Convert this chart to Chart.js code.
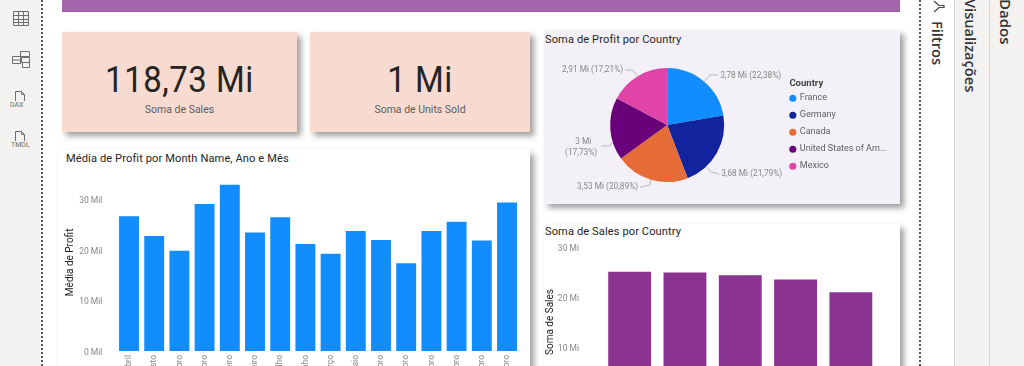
<!DOCTYPE html>
<html lang="pt">
<head>
<meta charset="utf-8">
<title>Power BI report</title>
<script src="https://cdn.jsdelivr.net/npm/chart.js@4/dist/chart.umd.min.js"></script>
<style>
    html, body { margin: 0; padding: 0; }
    body { position: relative; width: 1024px; height: 366px; overflow: hidden; background: #fff; font-family: Roboto, sans-serif; }
    .box { position: absolute; }
    .card { position: absolute; box-shadow: 4px 4px 6px rgba(0, 0, 0, .38); }
    .kpi { background: #f7dad0; text-align: center; color: #252423; }
    .kpi .value { position: absolute; left: 0; right: 0; top: 26px; font-size: 37px; line-height: 44px; letter-spacing: .6px; transform: scaleX(.89); }
    .kpi .name { position: absolute; left: 0; right: 0; top: 71px; font-size: 10.5px; line-height: 14px; color: #605e5c; }
    .title { position: absolute; font-size: 11.1px; line-height: 14px; color: #252423; letter-spacing: .1px; white-space: nowrap; }
    .side { position: absolute; writing-mode: vertical-rl; font-family: "Open Sans", sans-serif; font-size: 14px; line-height: 16px; color: #333; white-space: nowrap; }
    canvas { position: absolute; display: block; }
    svg { position: absolute; fill: none; stroke: #6f6e6c; stroke-width: 1; }
    svg text { fill: #6f6e6c; stroke: none; font: 7px Roboto, sans-serif; }
</style>
</head>
<body>
    <!-- left rail -->
    <div class="box" style="left:0;top:0;width:41px;height:366px;background:#f3f2f1"></div>
    <div class="box" style="left:41px;top:0;height:366px;border-left:2px dotted #555"></div>
    <svg style="left:12px;top:9px" width="18" height="18" viewBox="0 0 18 18"><path d="M1.5 2.5h15v14h-15zM1.5 6.5h15M1.5 10.5h15M1.5 13.5h15M6.5 2.5v14M11.5 2.5v14"/></svg>
    <svg style="left:11px;top:49px" width="20" height="20" viewBox="0 0 20 20"><path d="M9.5 2.5h9v5h-9zM1.5 7.5h8v7h-8zM10.5 8.5h8v5h-8zM11.5 13.5h7v5h-7zM1.5 11h8"/></svg>
    <svg style="left:10px;top:90px" width="20" height="20" viewBox="0 0 20 20"><path d="M5.5 11V1.5h6l3 3V11M11.5 1.5v3h3"/><text x="0" y="17">DAX</text></svg>
    <svg style="left:10px;top:130px" width="22" height="20" viewBox="0 0 22 20"><path d="M5.5 11V1.5h6l3 3V11M11.5 1.5v3h3"/><text x="1" y="17">TMDL</text></svg>

    <!-- right panes -->
    <div class="box" style="left:919px;top:0;height:366px;border-left:2px dotted #555"></div>
    <div class="box" style="left:954px;top:0;width:35px;height:366px;background:#f3f2f1;border-left:1px solid #d8d6d4;box-sizing:border-box"></div>
    <div class="box" style="left:989px;top:0;width:35px;height:366px;background:#f3f2f1;border-left:1px solid #d8d6d4;box-sizing:border-box"></div>
    <svg style="left:933px;top:0" width="14" height="14" viewBox="0 0 14 14"><path d="M1 1l5 4.5h5v2H6L1 12" stroke="#444" stroke-width="1.2"/></svg>
    <div class="side" style="left:930px;top:21px;font-weight:600;font-size:14.6px">Filtros</div>
    <div class="side" style="left:963px;top:-1px;font-weight:600;font-size:14.6px">Visualizações</div>
    <div class="side" style="left:998px;top:-1px;font-weight:600;font-size:15px">Dados</div>

    <!-- report header band -->
    <div class="box" style="left:62px;top:0;width:838px;height:12px;background:#a566ad;border-bottom:1px solid #9a55a3;box-sizing:border-box"></div>

    <div class="card kpi" style="left:62px;top:32px;width:235px;height:100px">
        <div class="value">118,73 Mi</div>
        <div class="name">Soma de Sales</div>
    </div>
    <div class="card kpi" style="left:310px;top:32px;width:220px;height:100px">
        <div class="value">1 Mi</div>
        <div class="name">Soma de Units Sold</div>
    </div>

    <div class="card" style="left:58px;top:150px;width:472px;height:240px;background:#fff"></div>
    <div class="title" style="left:66px;top:152px">Média de Profit por Month Name, Ano e Mês</div>
    <canvas id="profitByMonth" width="480" height="260" style="left:50px;top:170px"></canvas>

    <div class="card" style="left:544px;top:30px;width:356px;height:174px;background:#f4f0f7"></div>
    <div class="title" style="left:545px;top:33px">Soma de Profit por Country</div>
    <canvas id="profitByCountry" width="356" height="174" style="left:544px;top:30px"></canvas>

    <div class="card" style="left:544px;top:224px;width:356px;height:180px;background:#fff"></div>
    <div class="title" style="left:545px;top:225px">Soma de Sales por Country</div>
    <canvas id="salesByCountry" width="356" height="210" style="left:544px;top:235px"></canvas>

<script>
    // Values
    const months = ['abril', 'agosto', 'dezembro', 'dezembro', 'fevereiro', 'janeiro', 'julho', 'junho',
        'março', 'maio', 'novembro', 'novembro', 'outubro', 'outubro', 'setembro', 'setembro'];
    const avgProfit = [26600, 22700, 19800, 29000, 32800, 23400, 26400, 21100,
        19200, 23700, 21900, 17300, 23700, 25500, 21800, 29300];
    const profitTicks = [0, 10000, 20000, 30000];

    const countries = ['France', 'Germany', 'Canada', 'United States of America', 'Mexico'];
    const profitMi = [3.78, 3.68, 3.53, 3, 2.91];
    const profitShare = [22.38, 21.79, 20.89, 17.73, 17.21];
    const countryColors = ['#118dff', '#12239e', '#e66c37', '#6b007b', '#e044a7'];

    const salesCountries = ['United States of America', 'Canada', 'France', 'Germany', 'Mexico'];
    const salesMi = [25.03, 24.89, 24.35, 23.51, 20.95];
    const salesTicks = [0, 10, 20, 30];

    const LABEL_FONT = 'Roboto, sans-serif';
    const GREY = '#8a8886';

    Chart.defaults.font.family = LABEL_FONT;
    Chart.defaults.animation = false;
    Chart.defaults.responsive = false;

    function miText(v) {
        return String(v).replace('.', ',') + ' Mi';
    }

    function barOptions(axisTitle, tickCb, yMax, yTicks, yWidth, xHeight, tickPad, titlePad, padding) {
        return {
            layout: { padding },
            plugins: { legend: { display: false }, tooltip: { enabled: false } },
            scales: {
                x: {
                    grid: { display: false, drawTicks: false },
                    border: { display: false },
                    afterFit: scale => { scale.height = xHeight; },
                    ticks: { autoSkip: false, minRotation: 90, maxRotation: 90, padding: 4, color: GREY, font: { size: 8.5 } }
                },
                y: {
                    min: 0,
                    max: yMax,
                    grid: { display: false, drawTicks: false },
                    border: { display: false },
                    afterBuildTicks: scale => {
                        scale.ticks = yTicks.map(value => ({ value }));
                    },
                    afterFit: scale => {
                        // fixed plot box, no room reserved for half a tick label
                        scale.width = yWidth;
                        scale.paddingTop = 0;
                        scale.paddingBottom = 0;
                    },
                    title: { display: true, text: axisTitle, color: '#252423', font: { size: 10 }, padding: titlePad },
                    ticks: { autoSkip: false, labelOffset: 2, padding: tickPad, color: GREY, font: { size: 8.5 }, callback: tickCb }
                }
            }
        };
    }

    new Chart(document.getElementById('profitByMonth'), {
        type: 'bar',
        data: {
            labels: months,
            datasets: [{ data: avgProfit, backgroundColor: '#118dff', categoryPercentage: 1, barPercentage: 0.79 }]
        },
        options: barOptions('Média de Profit', v => (v / 1000) + ' Mil', 35000, profitTicks, 66.4, 79, 14, { top: 14, bottom: 0 },
            { top: 3.7, right: 10.4 })
    });

    new Chart(document.getElementById('salesByCountry'), {
        type: 'bar',
        data: {
            labels: salesCountries,
            datasets: [{ data: salesMi, backgroundColor: '#8a3391', categoryPercentage: 1, barPercentage: 0.775 }]
        },
        options: barOptions('Soma de Sales', v => v + ' Mi', 30, salesTicks, 58, 48, 23, { top: 0, bottom: 0 },
            { top: 12, right: 21.5 })
    });

    // Where each data label sits relative to the pie centre, as Power BI placed them
    const pieLabelPlacement = [
        { shift: 0, elbow: [43, -50], end: [51, -50], text: [53, -49], align: 'left' },
        { shift: 17, elbow: [44, 47], end: [52, 49], text: [54, 49], align: 'left' },
        { shift: 0, elbow: [-17, 60], end: [-27, 62], text: [-29, 62], align: 'right' },
        { shift: -13, elbow: [-57, 21], end: [-66, 21], text: [-86, 17], align: 'center' },
        { shift: 0, elbow: [-35, -55], end: [-42, -55], text: [-44, -55], align: 'right' }
    ];

    const pieLabels = {
        id: 'pieLabels',
        afterDatasetsDraw(chart) {
            const ctx = chart.ctx;
            chart.getDatasetMeta(0).data.forEach((arc, i) => {
                const place = pieLabelPlacement[i];
                const mid = (arc.startAngle + arc.endAngle) / 2 + place.shift * Math.PI / 180;
                const cx = arc.x;
                const cy = arc.y;
                ctx.save();
                ctx.strokeStyle = '#aaa';
                ctx.lineWidth = 0.8;
                ctx.beginPath();
                ctx.moveTo(cx + Math.cos(mid) * arc.outerRadius, cy + Math.sin(mid) * arc.outerRadius);
                ctx.lineTo(cx + place.elbow[0], cy + place.elbow[1]);
                ctx.lineTo(cx + place.end[0], cy + place.end[1]);
                ctx.stroke();
                ctx.fillStyle = GREY;
                ctx.font = '8.3px ' + LABEL_FONT;
                ctx.textAlign = place.align;
                ctx.textBaseline = 'middle';
                const value = miText(profitMi[i]);
                const share = '(' + profitShare[i].toFixed(2).replace('.', ',') + '%)';
                if (place.align === 'center') {
                    // this one wraps on two lines
                    ctx.fillText(value, cx + place.text[0] + 2, cy + place.text[1]);
                    ctx.fillText(share, cx + place.text[0], cy + place.text[1] + 11);
                } else {
                    ctx.fillText(value + ' ' + share, cx + place.text[0], cy + place.text[1]);
                }
                ctx.restore();
            });
        }
    };

    new Chart(document.getElementById('profitByCountry'), {
        type: 'pie',
        data: {
            labels: countries,
            datasets: [{ data: profitMi, backgroundColor: countryColors, borderWidth: 0, radius: 57 }]
        },
        options: {
            layout: { padding: { top: 16, right: 3, left: 8 } },
            plugins: {
                tooltip: { enabled: false },
                legend: {
                    position: 'right',
                    // legend title has no indent option, the spaces line it up with the markers
                    title: { display: true, position: 'start', text: '\u00a0\u00a0\u00a0Country', color: '#44423f', font: { size: 9.5, weight: 'bold' }, padding: { top: 8, bottom: -5 } },
                    align: 'center',
                    labels: {
                        usePointStyle: true,
                        pointStyle: 'circle',
                        boxWidth: 5,
                        boxHeight: 5,
                        padding: 8,
                        color: '#605e5c',
                        font: { size: 9 },
                        generateLabels(chart) {
                            const items = Chart.overrides.pie.plugins.legend.labels.generateLabels(chart);
                            items.forEach(item => {
                                if (item.text.length > 20) item.text = item.text.slice(0, 19) + '...';
                            });
                            return items;
                        }
                    }
                }
            }
        },
        plugins: [pieLabels]
    });
</script>
</body>
</html>
